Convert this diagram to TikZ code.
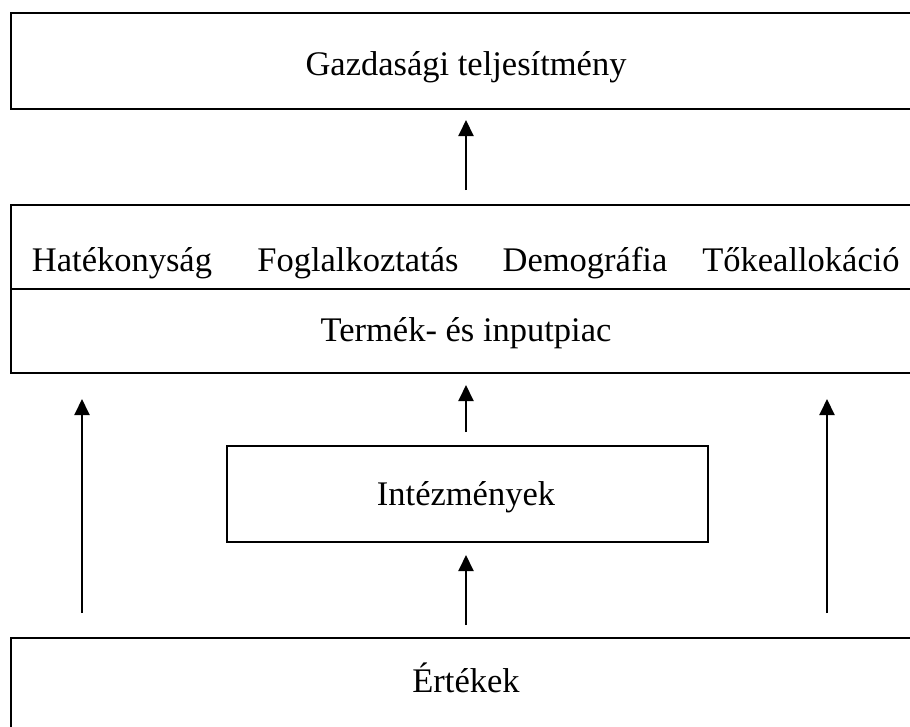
\documentclass[tikz,border=0pt]{standalone}
\usepackage{fontspec}
\setmainfont{Liberation Serif}
\usetikzlibrary{arrows.meta}
\begin{document}
\begin{tikzpicture}[x=1pt,y=-1pt,
  box/.style={draw,line width=2pt,rectangle,inner sep=0pt,anchor=north west},
  lbl/.style={inner sep=0pt,anchor=base,font=\fontsize{34.5}{40}\selectfont},
  arr/.style={line width=2pt,-{Triangle[length=16pt,width=15pt]}}]
\useasboundingbox (0,0) rectangle (910,726);
\clip (0,0) rectangle (910,726);
% boxes
\node[box,minimum width=905pt,minimum height=96pt] (top) at (10,12) {};
\node[box,minimum width=905pt,minimum height=168pt] (mid) at (10,204) {};
\node[box,minimum width=481pt,minimum height=96pt] (inst) at (226,445) {};
\node[box,minimum width=905pt,minimum height=110pt] (val) at (10,637) {};
\coordinate (dv) at (0,289);
\draw[line width=2pt] (mid.west |- dv) -- (mid.east |- dv);
% texts
\node[lbl] (t1) at (466,75) {Gazdasági teljesítmény};
\node[lbl] (m1) at (122,271) {Hatékonyság};
\node[lbl] (m2) at (358,271) {Foglalkoztatás};
\node[lbl] (m3) at (585,271) {Demográfia};
\node[lbl] (m4) at (801,271) {Tőkeallokáció};
\node[lbl] (m5) at (466,341) {Termék- és inputpiac};
\node[lbl] (i1) at (466,505) {Intézmények};
\node[lbl] (v1) at (466,692) {Értékek};
% arrows
\coordinate (cx) at (466,0);
\coordinate (lx) at (82,0);
\coordinate (rx) at (827,0);
\draw[arr,shorten <=14pt,shorten >=10pt] (mid.north -| cx) -- (top.south -| cx);
\draw[arr,shorten <=13pt,shorten >=11pt] (inst.north -| cx) -- (mid.south -| cx);
\draw[arr,shorten <=12pt,shorten >=12pt] (val.north -| cx) -- (inst.south -| cx);
\draw[arr,shorten <=24pt,shorten >=25pt] (val.north -| lx) -- (mid.south -| lx);
\draw[arr,shorten <=24pt,shorten >=25pt] (val.north -| rx) -- (mid.south -| rx);
\end{tikzpicture}
\end{document}
